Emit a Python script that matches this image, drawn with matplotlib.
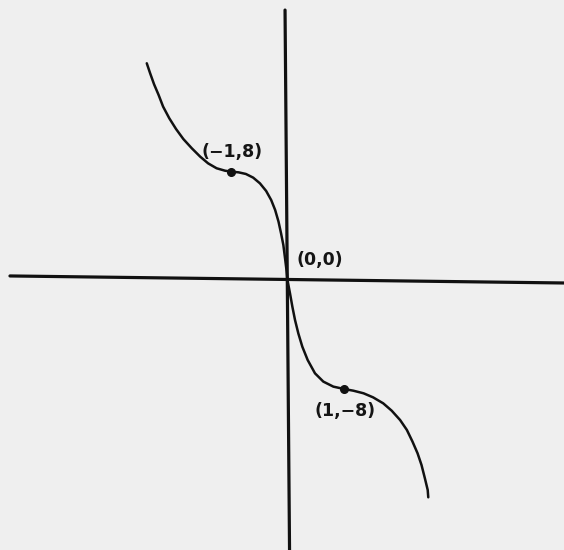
import matplotlib
matplotlib.use("Agg")
import matplotlib.pyplot as plt

# Traced curve through the labelled points
curve_x = [-2.50, -2.44, -2.37, -2.29, -2.21, -2.10, -1.98, -1.85, -1.70, -1.55,
           -1.41, -1.26, -1.11, -1.00, -0.87, -0.74, -0.61, -0.49, -0.38, -0.29,
           -0.22, -0.16, -0.115, -0.074, -0.044, -0.015, 0.00,
           0.044, 0.086, 0.133, 0.192, 0.263, 0.358, 0.488, 0.636, 0.814, 1.00,
           1.17, 1.35, 1.52, 1.70, 1.85, 2.00, 2.12, 2.22, 2.31, 2.38,
           2.44, 2.49, 2.50]
curve_y = [15.98, 15.24, 14.43, 13.65, 12.79, 11.93, 11.14, 10.40, 9.72, 9.10,
           8.61, 8.25, 8.07, 8.00, 7.95, 7.83, 7.56, 7.14, 6.58, 5.91,
           5.18, 4.32, 3.46, 2.60, 1.62, 0.64, 0.00,
           -0.96, -1.94, -2.92, -3.91, -4.89, -5.87, -6.85, -7.46, -7.83, -8.00,
           -8.13, -8.32, -8.62, -9.06, -9.60, -10.29, -11.02, -11.88, -12.74, -13.60,
           -14.58, -15.44, -15.98]

# Marked points and their labels
point_x = [-1, 1]
point_y = [8, -8]
labels = ["(\u22121,8)", "(0,0)", "(1,\u22128)"]
label_x = [-0.98, 0.57, 1.02]
label_y = [9.45, 1.5, -9.6]

# Axis extents
xaxis_x = [-4.93, 4.95]
xaxis_y = [0.32, -0.2]
yaxis_x = [-0.044, 0.036]
yaxis_y = [19.9, -19.9]

paper = "#efefef"
fig = plt.figure(figsize=(5.64, 5.50), dpi=100, facecolor=paper)
ax = fig.add_axes([0, 0, 1, 1])
ax.set_facecolor(paper)
ax.set_xlim(-5.107, 4.911)
ax.set_ylim(-19.86, 20.64)
ax.axis("off")

ax.plot(xaxis_x, xaxis_y, color="#111111", lw=2.3, solid_capstyle="round")
ax.plot(yaxis_x, yaxis_y, color="#111111", lw=2.3, solid_capstyle="round")
ax.plot(curve_x, curve_y, color="#111111", lw=1.8,
        solid_joinstyle="round", solid_capstyle="round")
ax.plot(point_x, point_y, "o", color="#111111", ms=5.5)

for t, x, y in zip(labels, label_x, label_y):
    ax.text(x, y, t, ha="center", va="center", fontsize=12.5,
            fontweight="bold", family="DejaVu Sans", color="#151515")

fig.savefig("out.png", dpi=100, facecolor=paper)
